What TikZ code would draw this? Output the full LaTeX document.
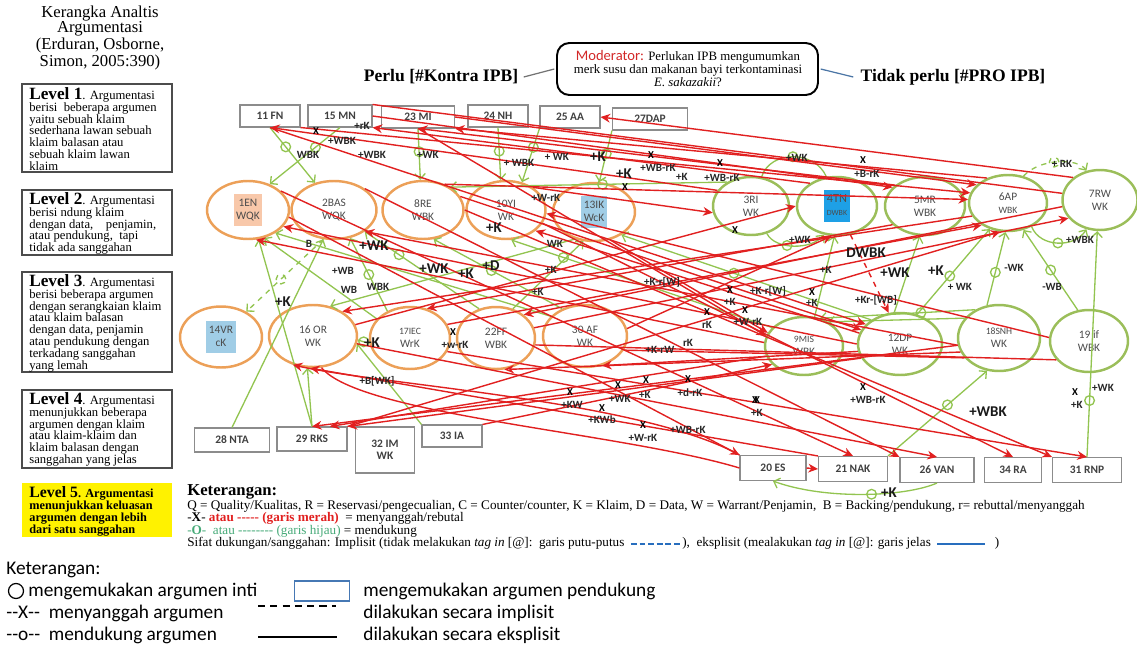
\documentclass[tikz,border=0pt]{standalone}
\usepackage{fontspec}
\setmainfont{Liberation Serif}
\newfontfamily\calib{Carlito}
\usetikzlibrary{shapes.geometric,arrows.meta,calc}
\definecolor{redc}{RGB}{225,32,32}
\definecolor{greenc}{RGB}{146,196,80}
\definecolor{orangec}{RGB}{236,160,88}
\definecolor{gcirc}{RGB}{155,190,90}
\definecolor{boxgray}{RGB}{140,140,140}
\definecolor{peach}{RGB}{248,200,170}
\definecolor{lblue}{RGB}{160,205,230}
\definecolor{tnblue}{RGB}{30,160,230}
\definecolor{lineblue}{RGB}{40,110,190}
\definecolor{legblue}{RGB}{70,120,180}
\definecolor{greenk}{RGB}{70,170,120}
\definecolor{modred}{RGB}{210,40,40}
\newcounter{labc}
\newcommand\putlab[3][lab]{\stepcounter{labc}\node[#1] (lab\arabic{labc}) at (#2) {#3};}
\newcommand\hy{\mbox{-}}
\newcommand\bdash{\rule[0.28ex]{0.45em}{1.1pt}\hspace{0.2em}}
\newcommand\twol[2]{\begin{tabular}{@{}c@{}}#1\\#2\end{tabular}}
\setlength{\fboxsep}{1.5pt}
\begin{document}
\begin{tikzpicture}[x=0.02cm,y=-0.02cm,
 tb/.style={draw=boxgray, line width=0.6pt, minimum height=0.44cm, inner sep=1pt, font=\calib\bfseries\fontsize{6.5}{7}\selectfont, text=black!75},
 ob/.style={ellipse, draw=orangec, line width=1.4pt, inner sep=0pt, align=center, font=\calib\fontsize{6.5}{7.5}\selectfont, text=black!70},
 gb/.style={ellipse, draw=gcirc, line width=1.4pt, inner sep=0pt, align=center, font=\calib\fontsize{6.5}{7.5}\selectfont, text=black!70},
 ra/.style={draw=redc, line width=0.8pt, -{Stealth[length=5.5pt,width=5pt]}},
 rl/.style={draw=redc, line width=0.8pt},
 ga/.style={draw=greenc, line width=0.75pt, -{Straight Barb[length=3pt,width=6pt]}},
 gl/.style={draw=greenc, line width=0.75pt},
 gc/.style={circle, draw=greenc, line width=0.75pt, minimum size=5.5pt, inner sep=0pt},
 lab/.style={font=\calib\bfseries\fontsize{6.3}{7}\selectfont, inner sep=0pt, text=black!85},
 labB/.style={font=\calib\bfseries\fontsize{8.5}{9}\selectfont, inner sep=0pt, text=black!90},
 xm/.style={font=\calib\bfseries\fontsize{6}{6}\selectfont, inner sep=0pt},
 lvbox/.style={draw=black!70, line width=0.6pt, minimum width=3cm, inner sep=0pt},
 lvtext/.style={anchor=north west, align=left, inner sep=0pt, font=\fontsize{7.2}{6.75}\selectfont},
 ket/.style={anchor=west, inner sep=0pt, font=\fontsize{7.5}{7.5}\selectfont},
 leg/.style={anchor=west, inner sep=0pt, font=\calib\fontsize{11}{12}\selectfont}
]
\useasboundingbox (0,0) rectangle (1137,646);

% ---------- left column ----------
\node[font=\fontsize{9.5}{8.4}\selectfont, align=center, inner sep=0pt] (title) at (100,38) {Kerangka Analtis\\Argumentasi\\(Erduran, Osborne,\\Simon, 2005:390)};

\node[lvbox, minimum height=1.76cm] (lv1) at (97,128) {};
\node[lvtext] (t1) at (29,87) {\textbf{\fontsize{9.8}{9}\selectfont Level 1}. Argumentasi\\berisi\ \ beberapa argumen\\yaitu sebuah klaim\\sederhana lawan sebuah\\klaim balasan atau\\sebuah klaim lawan\\klaim};
\node[lvbox, minimum height=1.3cm] (lv2) at (97,222.5) {};
\node[lvtext] (t2) at (29,192) {\textbf{\fontsize{9.8}{9}\selectfont Level 2}. Argumentasi\\berisi ndung klaim\\dengan data,\ \ \ \ penjamin,\\atau pendukung,\ \ tapi\\tidak ada sanggahan};
\node[lvbox, minimum height=2cm] (lv3) at (97,322) {};
\node[lvtext] (t3) at (29,274) {\textbf{\fontsize{9.8}{9}\selectfont Level 3}. Argumentasi\\berisi beberapa argumen\\dengan serangkaian klaim\\atau klaim balasan\\dengan data, penjamin\\atau pendukung dengan\\terkadang sanggahan\\yang lemah};
\node[lvbox, minimum height=1.56cm] (lv4) at (97,429) {};
\node[lvtext] (t4) at (29,392) {\textbf{\fontsize{9.8}{9}\selectfont Level 4}. Argumentasi\\menunjukkan beberapa\\argumen dengan klaim\\atau klaim-klaim dan\\klaim balasan dengan\\sanggahan yang jelas};
\node[fill=yellow, minimum width=3cm, minimum height=1.08cm, inner sep=0pt] (lv5) at (97,510) {};
\node[lvtext, font=\bfseries\fontsize{7}{6.9}\selectfont] (t5) at (29,486) {{\fontsize{9}{9}\selectfont Level 5}. Argumentasi\\menunjukkan keluasan\\argumen dengan lebih\\dari satu sanggahan};

% ---------- header ----------
\node[draw, rounded corners=7pt, line width=1.1pt, minimum width=5.22cm, minimum height=1.04cm] (mod) at (687.5,69) {};
\node[font=\fontsize{7.3}{7.4}\selectfont, align=center, inner sep=0pt] (modt) at (688,69) {{\calib\color{modred}\fontsize{8.3}{7.4}\selectfont Moderator:} Perlukan IPB mengumumkan\\merk susu dan makanan bayi terkontaminasi\\\textit{E. sakazakii}?};
\node[font=\bfseries\fontsize{10}{10}\selectfont, inner sep=1pt] (perlu) at (441,77) {Perlu [\#Kontra IPB]};
\node[font=\bfseries\fontsize{10}{10}\selectfont, inner sep=1pt] (tidak) at (953,77) {Tidak perlu [\#PRO IPB]};
\draw[black!55, line width=0.7pt] ([xshift=2pt]perlu.east) -- ([xshift=-1pt]mod.west);
\draw[lineblue!60!gray, line width=0.7pt] ([xshift=1pt]mod.east) -- ([xshift=-3pt]tidak.west);

% ---------- top boxes ----------
\node[tb, minimum width=1.2cm] (fn11) at (270,116) {11 FN};
\node[tb, minimum width=1.28cm] (mn15) at (340,116) {15 MN};
\node[tb, minimum width=1.46cm] (mi23) at (418,117) {23 MI};
\node[tb, minimum width=1.2cm] (nh24) at (498,116) {24 NH};
\node[tb, minimum width=1.2cm] (aa25) at (570,117) {25 AA};
\node[tb, minimum width=1.5cm] (dap27) at (650,119) {27DAP};

% ---------- row 1 ----------
\node[ob, minimum width=1.64cm, minimum height=1.16cm] (en1) at (248,210) {\colorbox{peach}{\twol{1EN}{WQK}}};
\node[ob, minimum width=1.7cm, minimum height=1.16cm] (bas2) at (334,210) {2BAS\\WQK};
\node[ob, minimum width=1.62cm, minimum height=1.16cm] (re8) at (423,210) {8RE\\WBK};
\node[ob, minimum width=1.58cm, minimum height=1.16cm] (yi10) at (506,210) {10YI\\WK};
\node[ob, minimum width=1.64cm, minimum height=1.16cm] (ic13) at (594,212) {\colorbox{lblue}{\twol{13IK}{WcK}}};
\node[gb, minimum width=1.52cm, minimum height=1.16cm] (ri3) at (751,206) {3RI\\WK};
\node[gb, minimum width=1.6cm, minimum height=1.16cm] (tn4) at (837,206) {\colorbox{tnblue}{\twol{\fontsize{7}{8}\selectfont 4TN}{\fontsize{4.5}{5}\selectfont DWBK}}};
\node[gb, minimum width=1.6cm, minimum height=1.16cm] (mr5) at (925,206) {5MR\\WBK};
\node[gb, minimum width=1.56cm, minimum height=1.12cm] (ap6) at (1008,203) {6AP\\{\fontsize{5.5}{6}\selectfont WBK}};
\node[gb, minimum width=1.5cm, minimum height=1.2cm] (rw7) at (1100,200) {7RW\\WK};

% ---------- row 2 ----------
\node[ob, minimum width=1.64cm, minimum height=1.22cm] (vr14) at (221,337) {\colorbox{lblue}{\twol{14VR}{cK}}};
\node[ob, minimum width=1.76cm, minimum height=1.24cm] (or16) at (313,336) {16 OR\\WK};
\node[ob, minimum width=1.6cm, minimum height=1.24cm] (iec17) at (410,338) {{\fontsize{5.5}{6}\selectfont 17IEC}\\WrK};
\node[ob, minimum width=1.56cm, minimum height=1.24cm] (ff22) at (496,338) {22FF\\WBK};
\node[ob, minimum width=1.68cm, minimum height=1.24cm] (af30) at (585,336) {30 AF\\WK};
\node[gb, minimum width=1.56cm, minimum height=1.16cm] (mis9) at (804,346) {{\fontsize{5.5}{6}\selectfont 9MIS}\\WBK};
\node[gb, minimum width=1.68cm, minimum height=1.24cm] (dp12) at (900,344) {12DP\\WK};
\node[gb, minimum width=1.64cm, minimum height=1.32cm] (snh15) at (999,338) {{\fontsize{5.5}{6}\selectfont 18SNH}\\WK};
\node[gb, minimum width=1.56cm, minimum height=1.24cm] (if19) at (1089,341) {19 if\\WBK};

% ---------- bottom boxes ----------
\node[tb, minimum width=1.5cm, minimum height=0.48cm] (nta28) at (232,440) {28 NTA};
\node[tb, minimum width=1.4cm, minimum height=0.48cm] (rks29) at (312,439) {29 RKS};
\node[tb, minimum width=1.18cm, minimum height=0.92cm, align=center] (im32) at (385,450) {32 IM\\WK};
\node[tb, minimum width=1.2cm, minimum height=0.44cm] (ia33) at (452,436) {33 IA};
\node[tb, minimum width=1.32cm, minimum height=0.5cm] (es20) at (773,468) {20 ES};
\node[tb, minimum width=1.38cm, minimum height=0.5cm] (nak21) at (853,469) {21 NAK};
\node[tb, minimum width=1.48cm, minimum height=0.5cm] (van26) at (937,470) {26 VAN};
\node[tb, minimum width=1.14cm, minimum height=0.5cm] (ra34) at (1013,470) {34 RA};
\node[tb, minimum width=1.38cm, minimum height=0.5cm] (rnp31) at (1087,470) {31 RNP};

% ---------- green (support) connectors ----------
\draw[ga] (fn11.south) -- node[gc,pos=.35] (c1) {} (bas2.125);
\draw[ga] (mn15.south) -- node[gc,pos=.35] (c2) {} (en1.50);
\draw[ga] (mi23.south) -- node[gc,pos=.45] (c3) {} (re8.95);
\draw[ga] (nh24.south) -- node[gc,pos=.45] (c4) {} (yi10.100);
\draw[ga] (aa25.south west) -- node[gc,pos=.35] (c5) {} (yi10.60);
\draw[ga] (dap27.south west) -- node[gc,pos=.45] (c6) {} (ic13.80);
\draw[ga] (ri3.135) -- node[gc,pos=.45] (c7) {} (re8.40);
\draw[gl] (tn4.110) .. controls (815,150) and (770,150) .. node[gc,pos=.5] (c8) {} (ri3.70);
\draw[ga, dashed] (ap6.60) .. controls (1040,158) and (1078,158) .. node[gc,pos=.45] (c9) {} (rw7.115);
\draw[ga] (ap6.-45) .. controls (1040,248) and (1075,248) .. node[gc,pos=.5] (c10) {} (rw7.-115);
\draw[ga] (ri3.-60) .. controls (775,250) and (812,250) .. node[gc,pos=.4] (c11) {} (tn4.-115);
\draw[ga] (mis9.70) -- (tn4.-95);
\draw[ga] (snh15.110) -- node[gc,pos=.45] (c12) {} (ap6.-95);
\draw[ga] (if19.110) -- node[gc,pos=.5] (c13) {} (ap6.-60);
\draw[ga] (dp12.60) -- node[gc,pos=.45] (c14) {} (ap6.-125);
\draw[ga] (rnp31.north) -- node[gc,pos=.25] (c15) {} (rw7.-95);
\draw[ga] (snh15.150) -- (mis9.45);
\draw[ga] (dp12.100) -- (mr5.-100);
\draw[ga] (dp12.140) -- node[gc,pos=.55] (c16) {} (ic13.-40);
\draw[ga, dashed] (bas2.-110) -- node[gc,pos=.55] (c17) {} (vr14.45);
\draw[gl] (or16.-5) -- node[gc,pos=.5] (c18) {} (iec17.188);
\draw[ga] (nta28.north) -- (bas2.-110);
\draw[ga] (rks29.north) -- (or16.-100);
\draw[ga] (rks29.north) -- (en1.-70);
\draw[ga] (ia33.north west) -- (or16.-10);
\draw[ga] (iec17.130) -- node[gc,pos=.5] (c19) {} (bas2.-60);
\draw[ga] (af30.130) -- node[gc,pos=.55] (c20) {} (re8.-70);
\draw[ga] (ff22.120) -- node[gc,pos=.7] (c21) {} (bas2.-35);
\draw[ga] (mis9.150) -- node[gc,pos=.8] (c22) {} (yi10.-80);
\draw[ga] (ic13.-125) -- (or16.60);
\draw[ga] (iec17.150) -- (en1.-60);
\draw[ga] (af30.150) -- (en1.-40);
\draw[ga] (snh15.130) -- node[gc,pos=.35] (c23) {} (mis9.60);
\draw[ga] (nak21.north east) -- node[gc,pos=.6] (c24) {} (snh15.-110);
\draw[ga] (van26.south) .. controls (905,497) and (825,500) .. node[gc,pos=.45] (c25) {} (es20.south);
\draw[ga] (ff22.60) -- (ic13.-110);

% ---------- red (rebuttal) connectors ----------
\draw[ra] (fn11.south east) -- (ap6.165);
\draw[ra] (mn15.east) -- (mr5.150);
\draw[ra] (mi23.east) -- (ap6.150);
\draw[rl] (mn15.north east) -- (rw7.170);
\draw[ra] (rw7.140) -- (aa25.east);
\draw[ra] (ap6.130) -- (mi23.south east);
\draw[ra] (mr5.145) -- (mi23.south);
\draw[ra] (tn4.140) -- (mn15.south east);
\draw[ra] (ri3.155) -- (fn11.south);
\draw[ra] (fn11.south) -- (dp12.150);
\draw[ra] (mi23.south) -- (mis9.165);
\draw[ra] (en1.30) -- (nak21.north);
\draw[ra] (bas2.north east) -- (van26.north west);
\draw[ra] (re8.east) -- (rnp31.north west);
\draw[ra] (yi10.-20) -- (ra34.north);
\draw[ra] (en1.-10) -- (es20.north west);
\draw[ra] (dp12.west) -- (en1.-25);
\draw[ra] (mis9.175) -- (en1.-75);
\draw[ra] (snh15.190) -- (bas2.-35);
\draw[ra] (if19.175) -- (yi10.-5);
\draw[ra] (dp12.165) -- (yi10.-35);
\draw[ra] (es20.north west) .. controls (640,400) and (380,385) .. (or16.-125);
\draw[rl] (or16.-75) .. controls (360,415) and (620,432) .. (es20.west);
\draw[ra] (nak21.north west) -- (or16.-95);
\draw[ra] (ap6.-160) -- (or16.40);
\draw[ra] (rw7.-170) -- (ff22.40);
\draw[redc, line width=0.8pt, -{Stealth[open,length=5.5pt,width=5pt]}] (snh15.200) -- (ff22.-75);
\draw[ra] (or16.15) -- (tn4.180);
\draw[ra] (iec17.20) -- (ap6.-140);
\draw[ra] (ff22.15) -- (rw7.-150);
\draw[ra] (af30.10) -- (tn4.-100);
\draw[ra] (rks29.north east) -- (ap6.-105);
\draw[ra] (dp12.-160) -- (rks29.north east);
\draw[ra] (mis9.-165) -- ($(rks29.north)!0.5!(rks29.north east)$);
\draw[ra] (snh15.-170) -- (rks29.north);
\draw[ra] (ia33.north east) -- (mis9.-150);
\draw[ra] (ic13.-60) -- (mis9.160);
\draw[ra] (re8.20) -- (dp12.160);
\draw[ra, dashed] (tn4.-65) -- (dp12.110);
\draw[ra] (es20.east) -- (nak21.west);
\draw[ra] (iec17.-20) -- (rnp31.north);
\draw[ra] (or16.-10) -- (van26.north);
\draw[rl] (ff22.-10) -- (if19.-150);
\draw[rl] (af30.-20) -- (snh15.-150);
\draw[ra] (mr5.-150) -- (iec17.60);
\draw[ra] (dp12.-170) -- (af30.-60);
\draw[ra] (re8.50) -- (ap6.175);
\draw[ra] (yi10.40) -- (ri3.-170);

% ---------- labels ----------
\putlab{362,126}{+rK}
\putlab{342,141}{+WBK}
\putlab[xm]{316,131}{X}
\putlab{308,155}{WBK}
\putlab{372,155}{+WBK}
\putlab{428,155}{+WK}
\putlab{519,163}{+ WBK}
\putlab{557,157}{+ WK}
\putlab[labB]{598,157}{+K}
\putlab[xm]{651,155}{X}
\putlab[labB]{624,174}{+K}
\putlab{658,168}{+WB-rK}
\putlab{682,177}{+K}
\putlab{722,178}{+WB-rK}
\putlab[xm]{720,163}{X}
\putlab{797,158}{+WK}
\putlab[xm]{863,160}{X}
\putlab{867,174}{+B-rK}
\putlab{1062,164}{+ RK}
\putlab[xm]{625,187}{X}
\putlab[xm]{735,230}{X}
\putlab{546,198}{+W-rK}
\putlab[labB]{494,228}{+K}
\putlab{309,244}{B}
\putlab[labB]{374,246}{+WK}
\putlab{555,244}{WK}
\putlab{800,240}{+WK}
\putlab{1080,240}{+WBK}
\putlab[labB]{866,253}{DWBK}
\putlab{826,270}{+K}
\putlab[labB]{895,273}{+WK}
\putlab[labB]{936,271}{+K}
\putlab{1014,268}{-WK}
\putlab{960,287}{+ WK}
\putlab{1052,287}{-WB}
\putlab{343,271}{+WB}
\putlab[labB]{434,269}{+WK}
\putlab[labB]{466,274}{+K}
\putlab[labB]{491,266}{+D}
\putlab{378,287}{WBK}
\putlab{349,290}{WB}
\putlab[labB]{283,302}{+K}
\putlab{551,270}{+K}
\putlab{538,292}{+K}
\putlab{662,282}{+K-r[W]}
\putlab[xm]{730,290}{X}
\putlab{768,291}{+K-r[W]}
\putlab[xm]{812,292}{X}
\putlab{812,303}{+K}
\putlab{876,300}{+Kr-[WB]}
\putlab{730,302}{+K}
\putlab[xm]{745,310}{X}
\putlab[xm]{707,312}{X}
\putlab{748,322}{+W-rK}
\putlab{707,325}{rK}
\putlab{688,343}{rK}
\putlab{660,350}{+K-rW}
\putlab[xm]{646,380}{X}
\putlab[xm]{688,379}{X}
\putlab{645,395}{+K}
\putlab{690,393}{+d-rK}
\putlab[xm]{863,387}{X}
\putlab[xm]{755,400}{X}
\putlab{868,400}{+WB-rK}
\putlab[xm]{1075,392}{X}
\putlab{1103,388}{+WK}
\putlab{1077,405}{+K}
\putlab[labB]{372,343}{+K}
\putlab{455,345}{+w-rK}
\putlab[xm]{453,332}{X}
\putlab{377,381}{+B[WK]}
\putlab[xm]{570,392}{X}
\putlab{572,405}{+KW}
\putlab[xm]{618,385}{X}
\putlab{620,399}{+WK}
\putlab[xm]{602,408}{X}
\putlab{602,420}{+KWb}
\putlab[xm]{643,425}{X}
\putlab{643,438}{+W-rK}
\putlab{688,430}{+WB-rK}
\putlab[xm]{757,400}{X}
\putlab{757,413}{+K}
\putlab[labB]{988,412}{+WBK}
\putlab[labB]{889,493}{+K}

% ---------- keterangan (serif) ----------
\node[anchor=west, inner sep=0pt, font=\bfseries\fontsize{9.5}{10}\selectfont] (kt) at (187,492) {Keterangan:};
\node[ket] (k1) at (187,506) {Q = Quality/Kualitas, R = Reservasi/pengecualian, C = Counter/counter, K = Klaim, D = Data, W = Warrant/Penjamin,\ \ B = Backing/pendukung, r= rebuttal/menyanggah};
\node[ket] (k2) at (187,518) {\hy\textbf{X}\hy\ \textcolor{redc}{\textbf{atau \hy\hy\hy\hy\hy\ (garis merah)}}\ \ = menyanggah/rebutal};
\node[ket] (k3) at (187,531) {\textcolor{greenk}{\hy\textbf{O}\hy\ \ atau \hy\hy\hy\hy\hy\hy\hy\hy\ (garis hijau)}\ = mendukung};
\node[ket] (k4) at (187,543) {Sifat dukungan/sanggahan: Implisit (tidak melakukan \textit{tag in} [@]:\ \ garis putu-putus\ \ \textcolor{lineblue}{\bdash\bdash\bdash\bdash\bdash\bdash}),\ \ eksplisit (mealakukan \textit{tag in} [@]: garis jelas\ \ \textcolor{lineblue}{\rule[0.28ex]{3.6em}{1.1pt}}\ \ \ )};

% ---------- legend (sans) ----------
\node[leg] (kt2) at (6,570) {Keterangan:};
\node[draw, circle, line width=0.7pt, minimum size=0.3cm, inner sep=0pt] (lgc) at (16,591) {};
\node[leg] (lg1) at (28,591) {mengemukakan argumen inti};
\node[draw=legblue, line width=0.7pt, minimum width=1.1cm, minimum height=0.4cm, inner sep=0pt] (lgr) at (322,591) {};
\node[leg] (lg2) at (363,591) {mengemukakan argumen pendukung};
\node[leg] (lg3) at (6,613) {\hy\hy X\hy\hy\ \ menyanggah argumen};
\coordinate (d1) at (258,606);
\coordinate (d2) at (336,606);
\draw[line width=0.8pt, dash pattern=on 4pt off 3pt] (d1) -- (d2);
\node[leg] (lg4) at (363,613) {dilakukan secara implisit};
\node[leg] (lg5) at (6,635) {\hy\hy o\hy\hy\ \ mendukung argumen};
\coordinate (s1) at (258,637);
\coordinate (s2) at (337,637);
\draw[line width=0.8pt] (s1) -- (s2);
\node[leg] (lg6) at (363,635) {dilakukan secara eksplisit};
\end{tikzpicture}
\end{document}
